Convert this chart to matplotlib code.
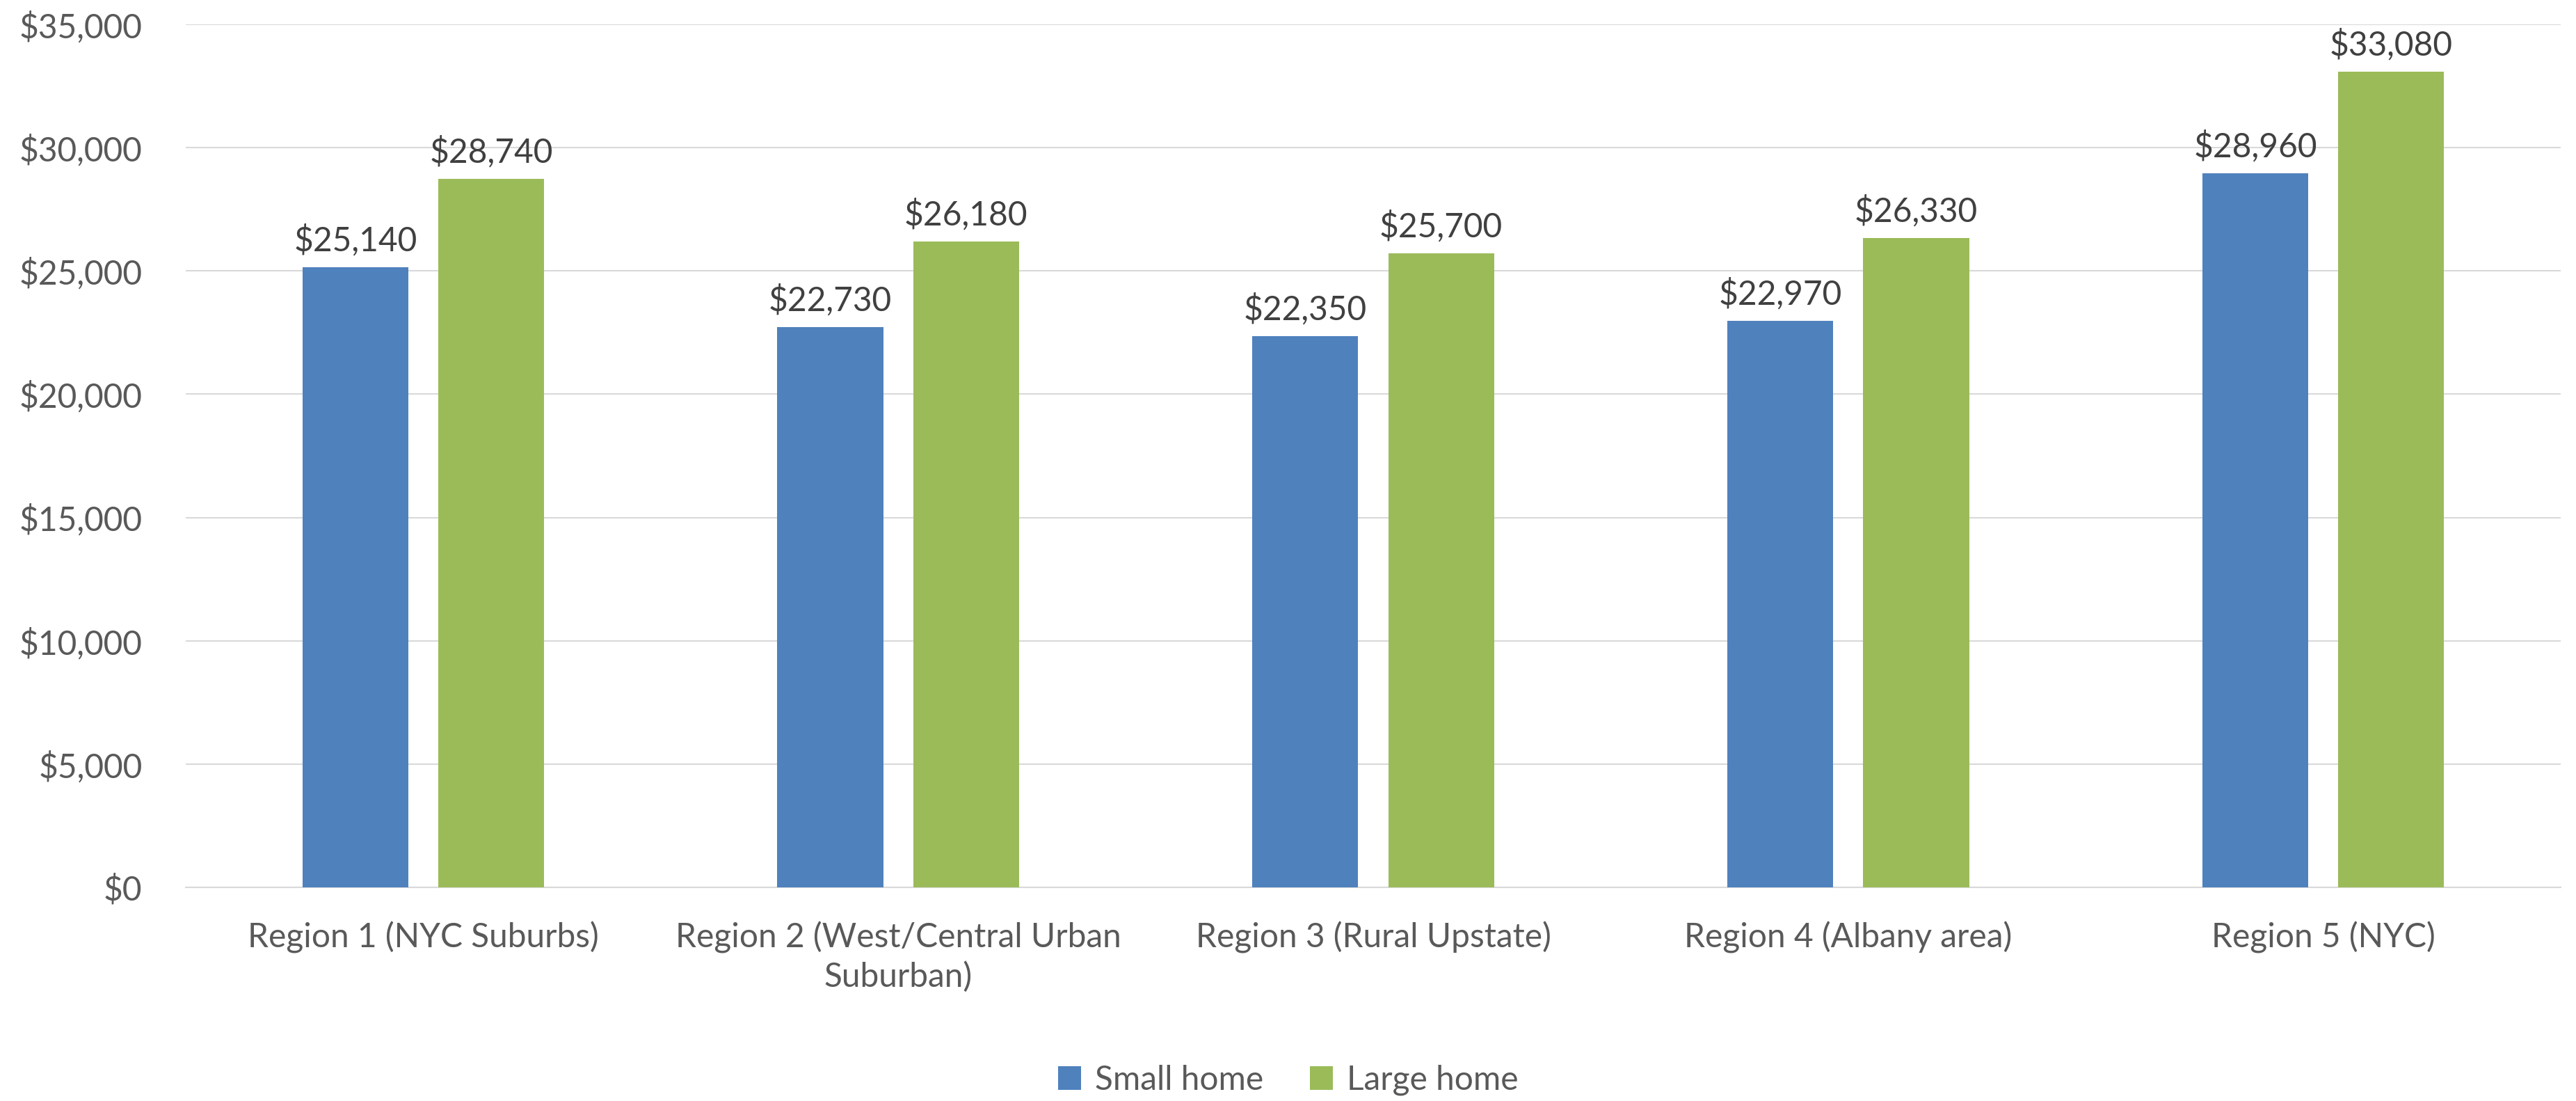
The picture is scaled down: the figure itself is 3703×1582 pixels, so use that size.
import matplotlib
matplotlib.use("Agg")
import matplotlib.pyplot as plt
from matplotlib.ticker import FuncFormatter, MultipleLocator
from matplotlib.patches import Patch
import numpy as np

plt.rcParams['font.family'] = ['Lato', 'DejaVu Sans']
plt.rcParams['text.parse_math'] = False

categories = ["Region 1 (NYC Suburbs)", "Region 2 (West/Central Urban\nSuburban)",
              "Region 3 (Rural Upstate)", "Region 4 (Albany area)", "Region 5 (NYC)"]
series_names = ["Small home", "Large home"]
small_home = [25140, 22730, 22350, 22970, 28960]
large_home = [28740, 26180, 25700, 26330, 33080]
colors = ["#4F81BD", "#9BBB59"]

W, H = 3703, 1582
fig = plt.figure(figsize=(W / 100, H / 100), dpi=100)
ax = fig.add_axes([267 / W, 1 - 1275 / H, (3681 - 267) / W, (1275 - 35) / H])

x = np.arange(len(categories))
bw = 0.223
off = 0.143
fs = 34.5
for vals, sgn, col in [(small_home, -1, colors[0]), (large_home, 1, colors[1])]:
    bars = ax.bar(x + sgn * off, vals, width=bw, color=col, zorder=3)
    for b, v in zip(bars, vals):
        ax.annotate(f"${v:,.0f}", (b.get_x() + b.get_width() / 2, v),
                    xytext=(0, 17), textcoords="offset points",
                    ha="center", va="baseline", fontsize=fs, color="#404040")

ax.set_xlim(-0.5, len(categories) - 0.5)
ax.set_ylim(0, 35000)
ax.yaxis.set_major_locator(MultipleLocator(5000))
ax.yaxis.set_major_formatter(FuncFormatter(lambda v, p: f"${v:,.0f}"))
ax.set_xticks(x)
ax.set_xticklabels(categories, fontsize=fs, color="#595959", linespacing=1.3)
ax.tick_params(axis="y", length=0, pad=45, labelsize=fs, labelcolor="#595959")
ax.tick_params(axis="x", length=0, pad=35)
ax.grid(axis="y", color="#D9D9D9", linewidth=1.5, zorder=0)
ax.set_axisbelow(True)
for s in ["top", "right", "left"]:
    ax.spines[s].set_visible(False)
ax.spines["bottom"].set_color("#D9D9D9")
ax.spines["bottom"].set_linewidth(1.5)

handles = [Patch(facecolor=c, label=n) for c, n in zip(colors, series_names)]
fig.legend(handles=handles, loc="center", bbox_to_anchor=(0.5, 1 - 1552 / H),
           ncol=2, frameon=False, fontsize=fs, labelcolor="#595959",
           handlelength=0.7, handleheight=0.7, handletextpad=0.4, columnspacing=1.4)

fig.savefig("out.png", dpi=100)
